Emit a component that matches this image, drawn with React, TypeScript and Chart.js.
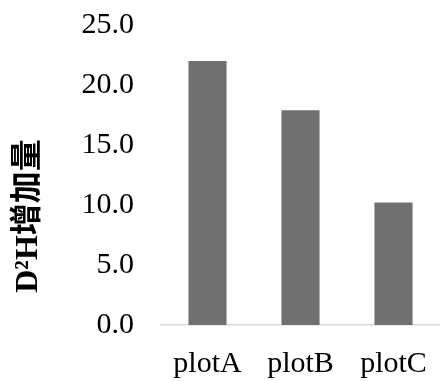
import React, { useEffect, useRef } from "react";
import { Chart, registerables } from "chart.js";

Chart.register(...registerables);

const categories: string[] = ["plotA", "plotB", "plotC"];
const values: number[] = [22.0, 17.9, 10.2];
const yTitle = "D²H增加量";
const yMin = 0;
const yMax = 25;
const yStep = 5;

const serif = "'Liberation Serif', 'Times New Roman', 'Noto Sans CJK SC', serif";

const yTitlePlugin = {
  id: "yTitlePlugin",
  afterDraw(chart: any) {
    const ctx = chart.ctx;
    ctx.save();
    ctx.translate(29, chart.chartArea.bottom - 109);
    ctx.rotate(-Math.PI / 2);
    ctx.font = "bold 32px " + serif;
    ctx.fillStyle = "#000000";
    ctx.textAlign = "center";
    ctx.textBaseline = "middle";
    ctx.fillText(yTitle, 0, 0);
    ctx.restore();
  },
};

export default function App() {
  const ref = useRef<HTMLCanvasElement | null>(null);
  useEffect(() => {
    if (!ref.current) return;
    const chart = new Chart(ref.current, {
      type: "bar",
      data: {
        labels: categories,
        datasets: [
          {
            data: values,
            backgroundColor: "#707070",
            borderWidth: 0,
            barPercentage: 0.41,
            categoryPercentage: 1,
          },
        ],
      },
      options: {
        responsive: false,
        animation: false,
        layout: { padding: { top: 25, right: 0, left: 0, bottom: 0 } },
        plugins: {
          legend: { display: false },
          tooltip: { enabled: false },
          title: { display: false },
        },
        scales: {
          x: {
            grid: { display: false, drawTicks: false },
            border: { display: true, color: "#d9d9d9", width: 1.5 },
            ticks: {
              color: "#000000",
              font: { family: serif, size: 30 },
              padding: 21,
            },
            afterFit(scale: any) {
              scale.height = 56;
              scale.paddingLeft = 0;
              scale.paddingRight = 0;
            },
          },
          y: {
            min: yMin,
            max: yMax,
            grid: { display: false, drawTicks: false },
            border: { display: false },
            ticks: {
              stepSize: yStep,
              color: "#000000",
              font: { family: serif, size: 30 },
              padding: 27,
              callback: (v: any) => Number(v).toFixed(1),
            },
            afterFit(scale: any) {
              scale.width = 161;
              scale.paddingTop = 0;
              scale.paddingBottom = 0;
            },
          },
        },
      },
      plugins: [yTitlePlugin],
    });
    return () => chart.destroy();
  }, []);
  return (
    <div style={{ position: "fixed", left: 0, top: 0, width: 440, height: 381, background: "#ffffff" }}>
      <canvas ref={ref} width={440} height={381} />
    </div>
  );
}
